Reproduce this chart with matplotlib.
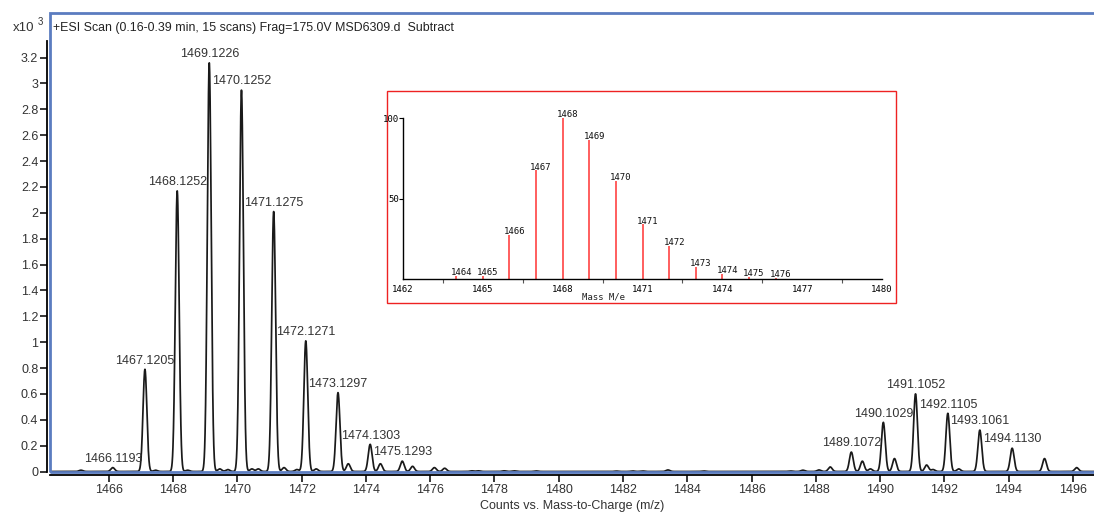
import numpy as np
import matplotlib.pyplot as plt
from matplotlib.patches import Rectangle
from matplotlib.ticker import FixedLocator, FuncFormatter

# --- main spectrum: peak centroids (m/z) and heights (x10^3 counts) ---
labeled_mz = [1466.1193, 1467.1205, 1468.1252, 1469.1226, 1470.1252, 1471.1275,
              1472.1271, 1473.1297, 1474.1303, 1475.1293,
              1489.1072, 1490.1029, 1491.1052, 1492.1105, 1493.1061, 1494.1130]
labeled_h = [0.03, 0.79, 2.17, 3.16, 2.95, 2.01, 1.01, 0.61, 0.21, 0.08,
             0.15, 0.38, 0.60, 0.45, 0.32, 0.18]

minor_mz = [1465.13, 1467.45, 1468.45, 1469.45, 1469.7, 1470.45, 1470.65, 1471.45,
            1471.85, 1472.45, 1473.45, 1474.45, 1475.45, 1476.13, 1476.45, 1477.3,
            1477.5, 1478.3, 1478.6, 1479.3, 1481.8, 1482.3, 1482.6, 1483.4, 1484.5,
            1487.2, 1487.6, 1488.1, 1488.45, 1489.45, 1489.7, 1490.45, 1491.45,
            1491.65, 1492.45, 1495.12, 1496.12]
minor_h = [0.01, 0.01, 0.01, 0.02, 0.015, 0.02, 0.02, 0.03,
           0.015, 0.02, 0.06, 0.06, 0.04, 0.03, 0.025, 0.005,
           0.005, 0.005, 0.005, 0.004, 0.003, 0.004, 0.004, 0.012, 0.004,
           0.004, 0.01, 0.012, 0.035, 0.08, 0.02, 0.10, 0.05,
           0.015, 0.02, 0.10, 0.03]

x_ticks = list(range(1466, 1497, 2))
y_ticks = [round(0.2 * i, 1) for i in range(17)]

# --- inset: predicted isotope pattern ---
iso_mz = [1464, 1465, 1466, 1467, 1468, 1469, 1470, 1471, 1472, 1473, 1474, 1475, 1476]
iso_int = [2, 2, 27.5, 67.6, 100, 86.6, 61, 34, 20.5, 7.5, 3.3, 1.2, 0.8]
iso_xticks = [1462, 1465, 1468, 1471, 1474, 1477, 1480]

W, H = 1094, 512
fig = plt.figure(figsize=(W / 100, H / 100), dpi=100)
plt.rcParams['font.family'] = ['Liberation Sans', 'DejaVu Sans']

def fx(px):
    return px / W

def fy(py):
    return 1 - py / H

# main axes
left, right, top, bottom = 49.5, 1094, 13, 471.5
ax = fig.add_axes([fx(left), fy(bottom), fx(right - left), (bottom - top) / H])

mz = np.linspace(1463.9, 1496.8, 8000)
all_mz = labeled_mz + minor_mz
all_h = labeled_h + minor_h
sigma = 0.06
profile = np.zeros_like(mz)
for c, h in zip(all_mz, all_h):
    profile += h * np.exp(-0.5 * ((mz - c) / sigma) ** 2)
ax.plot(mz, profile, color='#1a1a1a', lw=1.25, zorder=2)

for c, h in zip(labeled_mz, labeled_h):
    ax.annotate(f'{c:.4f}', (c, h), xytext=(0, 2), textcoords='offset points',
                ha='center', va='bottom', fontsize=9, color='#333333')

ax.set_xlim(1464.15, 1496.66)
ax.set_ylim(0, 3.545)
ax.xaxis.set_major_locator(FixedLocator(x_ticks))
ax.yaxis.set_major_locator(FixedLocator(y_ticks))
ax.yaxis.set_major_formatter(FuncFormatter(lambda v, p: f'{v:g}'))
ax.tick_params(axis='both', length=5, width=1.1, color='black', labelsize=9,
               labelcolor='#333333', pad=1.5)
for s in ['top', 'right']:
    ax.spines[s].set_visible(False)
ax.spines['left'].set_position(('outward', 1.6))
ax.spines['left'].set_bounds(0, 3.33)
ax.spines['bottom'].set_position(('outward', 2.4))
ax.spines['left'].set_linewidth(1.3)
ax.spines['bottom'].set_linewidth(1.3)
ax.set_xlabel('Counts vs. Mass-to-Charge (m/z)', fontsize=9, color='#333333', labelpad=3)
ax.patch.set_alpha(0)

# blue frame
ax.add_patch(Rectangle((0, 0), 1.02, 1, transform=ax.transAxes, fill=False,
                       edgecolor='#5b7cc0', lw=2, clip_on=False, zorder=3))

fig.text(fx(53), fy(28), '+ESI Scan (0.16-0.39 min, 15 scans) Frag=175.0V MSD6309.d  Subtract',
         ha='left', va='center', fontsize=8.9, color='#222222')
fig.text(fx(34), fy(28), 'x10', ha='right', va='center', fontsize=9.5, color='#333333')
fig.text(fx(38), fy(22), '3', ha='left', va='center', fontsize=7, color='#333333')

# inset
fig.add_artist(Rectangle((fx(387), fy(303)), fx(509), 212 / H, transform=fig.transFigure,
                         fill=True, facecolor='white', edgecolor='#ee2222', lw=1, zorder=4))
axi = fig.add_axes([fx(403), fy(279), fx(479), 161 / H])
axi.set_zorder(5)
axi.vlines(iso_mz, 0, iso_int, color='#ff3333', lw=1.1)
for m, v in zip(iso_mz, iso_int):
    axi.annotate(str(m), (m, v), xytext=(3.6, -1), textcoords='offset points',
                 ha='center', va='bottom', fontsize=6.5, family='DejaVu Sans Mono',
                 color='#111111', annotation_clip=False)
axi.set_xlim(1462, 1480)
axi.set_ylim(0, 100)
axi.set_xticks(iso_xticks)
axi.set_xticks([t + 1.5 for t in iso_xticks[:-1]], minor=True)
axi.set_yticks([50, 100])
axi.tick_params(axis='x', which='major', length=0, pad=4, labelsize=6.5)
axi.tick_params(axis='x', which='minor', length=3, width=0.8, color='#555555')
axi.tick_params(axis='y', length=3, width=0.8, pad=0, labelsize=6.5)
for lab in axi.get_xticklabels() + axi.get_yticklabels():
    lab.set_family('DejaVu Sans Mono')
for s in ['top', 'right']:
    axi.spines[s].set_visible(False)
axi.spines['left'].set_linewidth(1)
axi.spines['bottom'].set_linewidth(1)
axi.patch.set_alpha(0)
fig.text(fx(604), fy(297), 'Mass M/e', ha='center', va='center', fontsize=6.5,
         family='DejaVu Sans Mono', color='#222222', zorder=6)

fig.savefig('out.png', dpi=100)
